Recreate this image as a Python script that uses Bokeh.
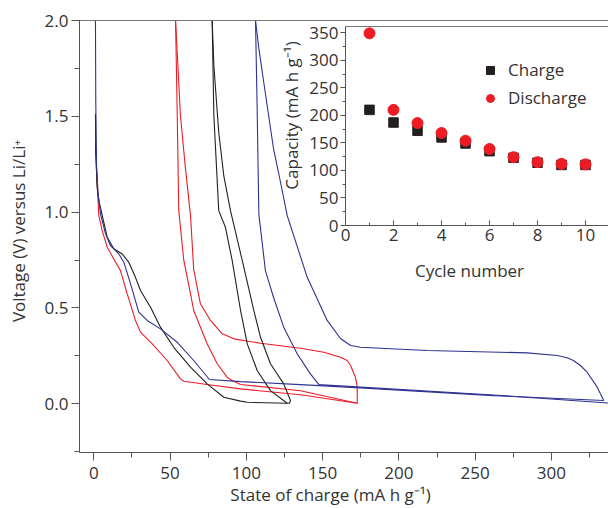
from bokeh.plotting import figure
from bokeh.models import (LinearAxis, FixedTicker, SingleIntervalTicker, Legend, LegendItem,
                          Range1d, PrintfTickFormatter)
from bokeh.embed import file_html
from bokeh.resources import INLINE

# ---------------- data: voltage profiles (state of charge mA h/g, voltage V) ----------------
blue1_soc = [1.1, 1.3, 1.8, 2.8, 4.4, 7.7, 10.9, 16.4, 19.7, 24.1, 29.5, 35.0, 43.7, 54.7, 65.5,
             75.8, 96.2, 135.5, 174.8, 262.0, 334.3, 332.1, 330.0, 323.4, 319.0, 314.4, 310.3,
             303.8, 284.1, 218.5, 174.8, 168.3, 161.7, 153.0, 139.9, 126.8, 122.4, 117.8, 111.4,
             108.2, 106.0]
blue1_v = [2.0, 1.58, 1.243, 1.10, 0.991, 0.887, 0.826, 0.782, 0.739, 0.626, 0.478, 0.435, 0.391,
           0.321, 0.226, 0.127, 0.116, 0.100, 0.083, 0.043, 0.017, 0.052, 0.087, 0.165, 0.200,
           0.226, 0.240, 0.252, 0.266, 0.278, 0.295, 0.304, 0.341, 0.435, 0.660, 0.982, 1.156,
           1.332, 1.678, 1.853, 2.0]

blue2_soc = [106.0, 107.0, 108.2, 112.5, 117.8, 124.5, 133.3, 142.0, 147.5, 174.8, 262.0, 337.4]
blue2_v = [2.0, 1.58, 0.99, 0.695, 0.556, 0.40, 0.261, 0.156, 0.100, 0.087, 0.046, 0.004]

black1_soc = [1.1, 1.3, 2.2, 3.3, 8.8, 13.1, 18.6, 22.9, 27.3, 30.6, 37.2, 43.7, 52.4, 63.4, 74.3,
              85.2, 96.2, 100.6, 126.8, 128.3, 128.9, 124.5, 115.8, 109.3, 104.9, 97.3, 89.6,
              85.2, 81.9, 78.7, 77.6]
black1_v = [1.513, 1.30, 1.13, 1.061, 0.869, 0.809, 0.782, 0.739, 0.660, 0.591, 0.504, 0.400,
            0.295, 0.191, 0.104, 0.034, 0.014, 0.008, 0.003, 0.003, 0.017, 0.104, 0.209, 0.347,
            0.487, 0.748, 1.008, 1.191, 1.417, 1.765, 2.0]

black2_soc = [77.6, 78.7, 81.9, 86.3, 90.7, 96.2, 100.6, 107.1, 115.8, 126.8]
black2_v = [2.0, 1.504, 1.008, 0.921, 0.748, 0.487, 0.313, 0.174, 0.069, 0.003]

red1_soc = [1.1, 2.2, 3.3, 5.5, 8.8, 13.1, 17.5, 21.9, 27.3, 30.6, 38.3, 48.1, 56.8, 59.0, 74.3,
            96.2, 135.5, 172.7, 172.7, 171.5, 168.3, 166.1, 161.7, 150.8, 135.5, 109.3, 91.8,
            84.2, 76.5, 69.9, 65.5, 63.4, 59.9, 56.8, 53.6]
red1_v = [1.365, 1.148, 0.982, 0.904, 0.817, 0.756, 0.695, 0.574, 0.435, 0.374, 0.313, 0.226,
          0.130, 0.118, 0.101, 0.078, 0.047, 0.003, 0.087, 0.139, 0.200, 0.226, 0.243, 0.269,
          0.290, 0.316, 0.339, 0.365, 0.435, 0.522, 0.700, 0.982, 1.243, 1.504, 2.0]

red2_soc = [53.6, 54.7, 55.7, 59.0, 63.4, 65.5, 74.3, 80.9, 87.4, 90.7, 96.2, 135.5, 172.7]
red2_v = [2.0, 1.504, 1.008, 0.748, 0.574, 0.487, 0.313, 0.209, 0.139, 0.122, 0.101, 0.068, 0.003]

# ---------------- data: inset capacities ----------------
cycles = [1, 2, 3, 4, 5, 6, 7, 8, 9, 10]
charge_cap = [210, 187, 172, 160, 149, 135, 123, 114, 110, 110]
discharge_cap = [349, 210, 186, 168, 154, 139, 124, 115, 112, 111]

FONT = "Open Sans"
TXT = "#333333"
AX = "#555555"
BLUE = "#2E3192"
RED = "#ED1C24"
BLACK = "#231F20"
W, H = 608, 508
OVERLAY = {"position": "absolute", "left": "0px", "top": "0px"}


def style_axis(ax, label_size="17px"):
    ax.axis_line_color = AX
    ax.major_tick_line_color = AX
    ax.minor_tick_line_color = AX
    ax.major_label_text_font = FONT
    ax.major_label_text_font_size = label_size
    ax.major_label_text_color = TXT
    ax.axis_label_text_font = FONT
    ax.axis_label_text_font_style = "normal"
    ax.axis_label_text_color = TXT
    ax.axis_label_text_font_size = "17px"


def label_only_axis(ax, text, standoff):
    """Axis that shows only its title (no line, ticks or tick labels)."""
    ax.ticker = FixedTicker(ticks=[])
    ax.axis_line_color = None
    ax.major_tick_line_color = None
    ax.minor_tick_line_color = None
    ax.major_tick_out = 0
    ax.major_tick_in = 0
    ax.minor_tick_out = 0
    ax.minor_tick_in = 0
    ax.major_label_standoff = 0
    ax.axis_label = text
    ax.axis_label_standoff = standoff
    ax.axis_label_text_font = FONT
    ax.axis_label_text_font_style = "normal"
    ax.axis_label_text_color = TXT
    ax.axis_label_text_font_size = "17px"


def transparent(fig):
    fig.outline_line_color = None
    fig.grid.visible = False
    fig.background_fill_color = None
    fig.border_fill_color = None


# ---------------- main plot ----------------
p = figure(width=W, height=H, x_range=Range1d(-9.37, 337.4), y_range=Range1d(-0.254, 2.0),
           output_backend="svg", toolbar_location=None,
           min_border_left=79, min_border_right=0, min_border_top=20, min_border_bottom=56)
p.outline_line_color = None
p.grid.visible = False
p.background_fill_color = None
p.border_fill_color = "white"

for xs, ys, c in [(red1_soc, red1_v, RED), (red2_soc, red2_v, RED),
                  (black1_soc, black1_v, BLACK), (black2_soc, black2_v, BLACK),
                  (blue1_soc, blue1_v, BLUE), (blue2_soc, blue2_v, BLUE)]:
    p.line(xs, ys, line_color=c, line_width=1.1)

xa = p.xaxis[0]
ya = p.yaxis[0]
xa.ticker = SingleIntervalTicker(interval=50, num_minor_ticks=2)
ya.ticker = SingleIntervalTicker(interval=0.5, num_minor_ticks=2)
ya.formatter = PrintfTickFormatter(format="%.1f")
for ax in (xa, ya):
    style_axis(ax)
    ax.major_tick_out = 8
    ax.major_tick_in = 0
    ax.minor_tick_out = 5
    ax.minor_tick_in = 0
xa.major_label_standoff = 6
ya.major_label_standoff = 3

top = LinearAxis(ticker=FixedTicker(ticks=[]), major_tick_line_color=None,
                 minor_tick_line_color=None, axis_line_color="#777777")
p.add_layout(top, "above")

# overlay carrying the main axis titles (lets them sit where the original has them)
lab = figure(width=W, height=H, x_range=Range1d(0, 1), y_range=Range1d(0, 1),
             output_backend="svg", toolbar_location=None,
             min_border_left=79, min_border_right=27, min_border_top=39, min_border_bottom=10,
             styles=OVERLAY)
transparent(lab)
label_only_axis(lab.xaxis[0], "State of charge (mA h g\u207b\u00b9)", 60)
label_only_axis(lab.yaxis[0], "Voltage (V) versus Li/Li\u207a", 50)

# ---------------- inset (same size, transparent, overlaid on top of the main plot) ----------------
ins = figure(width=W, height=H, x_range=Range1d(0, 10.958), y_range=Range1d(0, 361.4),
             output_backend="svg", toolbar_location=None,
             min_border_left=345, min_border_right=0, min_border_top=26, min_border_bottom=283,
             styles=OVERLAY)
transparent(ins)

r_ch = ins.scatter(cycles, charge_cap, marker="square", size=9.5, color=BLACK)
r_dis = ins.scatter(cycles, discharge_cap, marker="circle", size=11, color=RED)

ixa = ins.xaxis[0]
iya = ins.yaxis[0]
ixa.ticker = SingleIntervalTicker(interval=2, num_minor_ticks=2)
iya.ticker = SingleIntervalTicker(interval=50, num_minor_ticks=2)
for ax in (ixa, iya):
    style_axis(ax)
ixa.major_tick_out = 0
ixa.major_tick_in = 5
ixa.minor_tick_out = 0
ixa.minor_tick_in = 3
iya.major_tick_out = 5
iya.major_tick_in = 0
iya.minor_tick_out = 3
iya.minor_tick_in = 0
ixa.major_label_standoff = 3
iya.major_label_standoff = 2

itop = LinearAxis(ticker=FixedTicker(ticks=[]), major_tick_line_color=None,
                  minor_tick_line_color=None, axis_line_color="#777777")
ins.add_layout(itop, "above")

leg = Legend(items=[LegendItem(label="Charge", renderers=[r_ch]),
                    LegendItem(label="Discharge", renderers=[r_dis])],
             location=(135, 116), padding=0, margin=0, spacing=5,
             glyph_width=20, glyph_height=20, label_height=20, label_standoff=8,
             border_line_color=None, background_fill_alpha=0,
             label_text_font=FONT, label_text_font_size="17px", label_text_color=TXT)
ins.add_layout(leg)

# overlay carrying the inset axis titles
ilab = figure(width=W, height=H, x_range=Range1d(0, 1), y_range=Range1d(0, 1),
              output_backend="svg", toolbar_location=None,
              min_border_left=345, min_border_right=15, min_border_top=26, min_border_bottom=304,
              styles=OVERLAY)
transparent(ilab)
label_only_axis(ilab.xaxis[0], "Cycle number", 54)
label_only_axis(ilab.yaxis[0], "Capacity (mA h g\u207b\u00b9)", 43)

open("out.html", "w").write(file_html([p, lab, ins, ilab], INLINE))
